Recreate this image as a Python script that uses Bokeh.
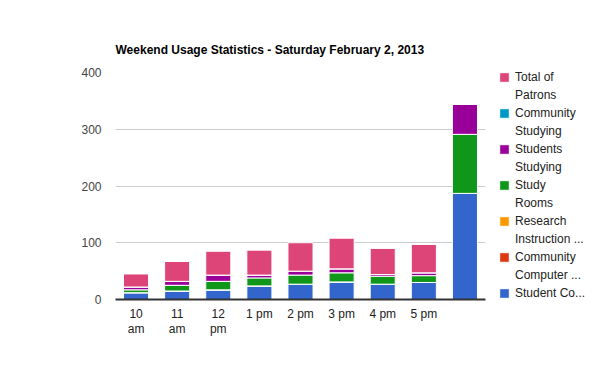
from bokeh.plotting import figure
from bokeh.models import Legend, LegendItem, Range1d, FactorRange, FixedTicker
from bokeh.embed import file_html
from bokeh.resources import INLINE

hours = ["10\nam", "11\nam", "12\npm", "1 pm", "2 pm", "3 pm", "4 pm", "5 pm", " "]
student_computers = [12, 15, 17, 24, 27, 31, 27, 30, 187]
community_computers = [0, 0, 0, 0, 0, 0, 0, 0, 0]
research_instruction = [0, 0, 0, 0, 0, 0, 0, 0, 0]
study_rooms = [5, 10, 15, 14, 16, 16, 14, 12, 104]
students_studying = [5, 7, 11, 5, 7, 7, 3, 5, 53]
community_studying = [0, 0, 0, 0, 0, 0, 0, 0, 0]
total_patrons = [23, 35, 42, 44, 50, 54, 46, 50, 0]

series = ["Student Co...", "Community\nComputer ...", "Research\nInstruction ...",
          "Study\nRooms", "Students\nStudying", "Community\nStudying", "Total of\nPatrons"]
colors = ["#3366cc", "#dc3912", "#ff9900", "#109618", "#990099", "#0099c6", "#dd4477"]
keys = ["s0", "s1", "s2", "s3", "s4", "s5", "s6"]

data = {"x": hours}
for k, v in zip(keys, [student_computers, community_computers, research_instruction,
                       study_rooms, students_studying, community_studying, total_patrons]):
    data[k] = v

FONT = "Liberation Sans"

p = figure(frame_width=370, frame_height=227, x_range=FactorRange(*hours), y_range=Range1d(0, 400),
           output_backend="svg", toolbar_location=None,
           min_border_left=115, min_border_right=0, min_border_top=72, min_border_bottom=72)

renderers = p.vbar_stack(keys, x="x", width=25 / 41, color=colors, line_color="white",
                         line_width=1, source=data)
blank = p.vbar(x=[], top=[], width=0.5, fill_alpha=0, line_alpha=0)

p.title.text = "Weekend Usage Statistics - Saturday February 2, 2013"
p.title.text_font = FONT
p.title.text_font_size = "12px"
p.title.text_font_style = "bold"
p.title.text_color = "#000000"
p.title.align = "left"
p.title.standoff = 31

p.outline_line_color = None
p.background_fill_color = "white"
p.border_fill_color = "white"

p.xgrid.grid_line_color = None
p.ygrid.grid_line_color = "#cccccc"
p.ygrid.grid_line_width = 1

p.yaxis.ticker = FixedTicker(ticks=[0, 100, 200, 300, 400])
p.yaxis.axis_line_color = None
p.yaxis.major_tick_line_color = None
p.yaxis.minor_tick_line_color = None
p.yaxis.major_label_text_font = FONT
p.yaxis.major_label_text_font_size = "12px"
p.yaxis.major_label_text_color = "#444444"
p.yaxis.major_label_standoff = 8

p.xaxis.axis_line_color = "#333333"
p.xaxis.axis_line_width = 2
p.xaxis.major_tick_line_color = None
p.xaxis.minor_tick_line_color = None
p.xaxis.major_label_text_font = FONT
p.xaxis.major_label_text_font_size = "12px"
p.xaxis.major_label_text_color = "#222222"
p.xaxis.major_label_standoff = 1
p.xaxis.major_label_text_line_height = 1.1

items = []
for lab, r in list(zip(series, renderers))[::-1]:
    lines = lab.split("\n")
    items.append(LegendItem(label=lines[0], renderers=[r]))
    for extra in lines[1:]:
        items.append(LegendItem(label=extra, renderers=[blank]))

legend = Legend(items=items, location=(13, -1), orientation="vertical")
legend.border_line_color = None
legend.background_fill_alpha = 0
legend.label_text_font = FONT
legend.label_text_font_size = "12px"
legend.label_text_color = "#222222"
legend.glyph_width = 12
legend.glyph_height = 12
legend.label_height = 14
legend.label_standoff = 5
legend.spacing = 4
legend.padding = 0
legend.margin = 0
p.add_layout(legend, "right")

open("out.html", "w").write(file_html(p, INLINE))
